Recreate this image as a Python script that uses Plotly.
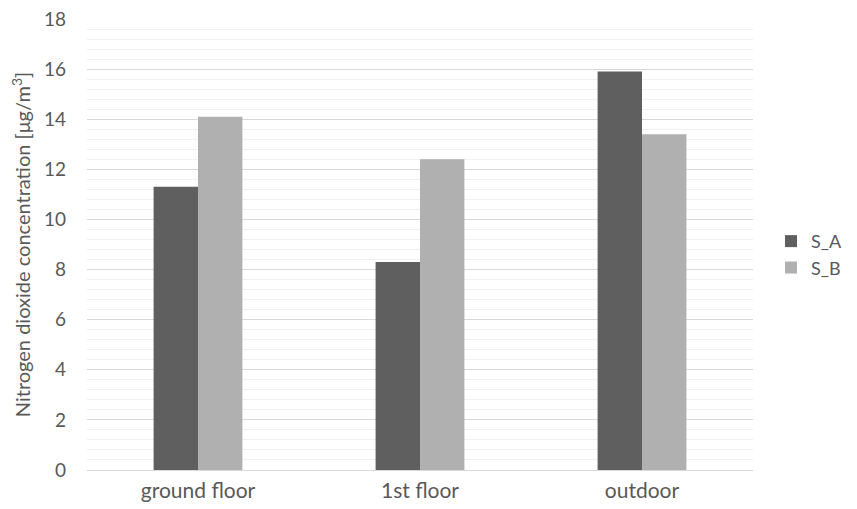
import plotly.graph_objects as go

categories = ["ground floor", "1st floor", "outdoor"]
s_a = [11.3, 8.3, 15.9]
s_b = [14.1, 12.4, 13.4]
series_names = ["S_A", "S_B"]
y_ticks = [0, 2, 4, 6, 8, 10, 12, 14, 16, 18]

fig = go.Figure()
fig.add_trace(go.Bar(x=categories, y=s_a, name=series_names[0],
                     marker=dict(color="#5f5f5f", line=dict(width=0))))
fig.add_trace(go.Bar(x=categories, y=s_b, name=series_names[1],
                     marker=dict(color="#b0b0b0", line=dict(width=0))))

font_family = "Lato, Open Sans, sans-serif"
fig.update_layout(
    width=849, height=501,
    margin=dict(l=79, r=104, t=11, b=39, autoexpand=False),
    paper_bgcolor="white", plot_bgcolor="white",
    barmode="group", bargap=0.6, bargroupgap=0,
    font=dict(family=font_family, color="#595959", size=18),
    legend=dict(x=1.027, y=0.478, xanchor="left", yanchor="middle",
                font=dict(size=18, color="#595959"), tracegroupgap=8,
                itemwidth=30),
    showlegend=True,
)
fig.update_xaxes(showgrid=False, showline=False, ticks="", automargin=False,
                 tickfont=dict(size=21, color="#595959"), ticklabelstandoff=6)
fig.update_yaxes(range=[0, 18.0001], tickvals=y_ticks, showline=False, automargin=False,
                 ticklabeloverflow="allow",
                 gridcolor="#d9d9d9", gridwidth=1.3, zeroline=True,
                 zerolinecolor="#d9d9d9", zerolinewidth=1.3,
                 tickfont=dict(size=19, color="#595959"), ticks="",
                 ticklabelstandoff=20,
                 minor=dict(dtick=0.4, showgrid=True, gridcolor="#f0f0f0", gridwidth=1),
                 title=dict(text="Nitrogen dioxide concentration [μg/m<sup>3</sup>]",
                            font=dict(size=20, color="#595959"), standoff=12))

fig.write_html("out.html")
